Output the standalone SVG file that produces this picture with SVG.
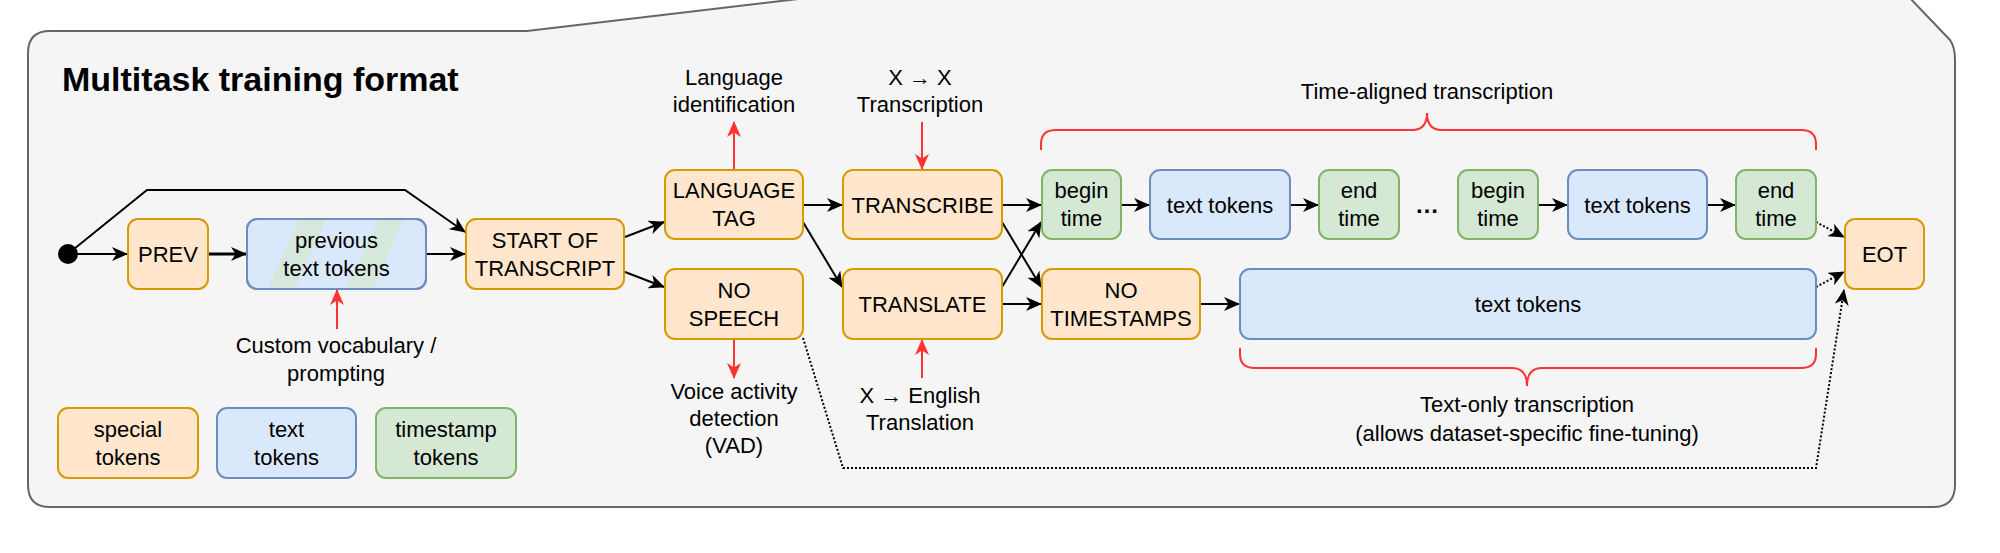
<svg xmlns="http://www.w3.org/2000/svg" width="2000" height="553" viewBox="0 0 2000 553">
<defs>
<style>
text{font-family:"Liberation Sans",Arial,sans-serif;font-size:22px;fill:#000;text-anchor:middle}
.title{font-weight:bold;font-size:34px;text-anchor:start}
.sp{fill:#ffe6cc;stroke:#d79b00;stroke-width:2}
.tx{fill:#dae8fc;stroke:#6c8ebf;stroke-width:2}
.ts{fill:#d5e8d4;stroke:#82b366;stroke-width:2}
.a{fill:none;stroke:#000;stroke-width:2;marker-end:url(#ah)}
.d{fill:none;stroke:#000;stroke-width:2;stroke-dasharray:2 2;marker-end:url(#ah)}
.r{fill:none;stroke:#ff3333;stroke-width:2;marker-end:url(#rh)}
.br{fill:none;stroke:#ff3333;stroke-width:2}
</style>
<marker id="ah" viewBox="0 0 16 14" refX="15" refY="7" markerWidth="16" markerHeight="14" markerUnits="userSpaceOnUse" orient="auto">
<path d="M0,0 L16,7 L0,14 L4.5,7 Z" fill="#000"/>
</marker>
<marker id="rh" viewBox="0 0 16 14" refX="15" refY="7" markerWidth="16" markerHeight="14" markerUnits="userSpaceOnUse" orient="auto">
<path d="M0,0 L16,7 L0,14 L4.5,7 Z" fill="#ff3333"/>
</marker>
<clipPath id="pc"><rect x="247" y="219" width="179" height="70" rx="10"/></clipPath>
</defs>
<g id="container">
<path d="M28,53 Q28,31 50,31 L527,31 L832,-5 L1907,-5 L1950,40 Q1955,47 1955,60 L1955,485 Q1955,507 1933,507 L50,507 Q28,507 28,485 Z" fill="#f5f5f5" stroke="#666666" stroke-width="2"/>
<text class="title" x="62" y="91">Multitask training format</text>
</g>
<g id="connectors">
<circle cx="68" cy="254" r="10" fill="#000"/>
<path class="a" d="M78,254 L127,254"/>
<path class="a" d="M208,254 L246,254" style="stroke-width:3"/>
<path class="a" d="M426,254 L465,254"/>
<path class="a" d="M74,249 L147,190 L405,190 L465,232"/>
<path class="a" d="M625,237 L664,222"/>
<path class="a" d="M625,272 L664,287"/>
<path class="a" d="M803,205 L842,205"/>
<path class="a" d="M803,222 L842,287"/>
<path class="a" d="M1002,205 L1041,205"/>
<path class="a" d="M1002,222 L1041,287"/>
<path class="a" d="M1002,287 L1041,222"/>
<path class="a" d="M1002,304 L1041,304"/>
<path class="a" d="M1121,205 L1149,205"/>
<path class="a" d="M1290,205 L1318,205"/>
<path class="a" d="M1538,205 L1567,205"/>
<path class="a" d="M1707,205 L1735,205"/>
<path class="a" d="M1200,304 L1239,304"/>
<path class="d" d="M1816,222 L1844,237"/>
<path class="d" d="M1816,287 L1844,272"/>
<path class="d" d="M803,338 L843,468 L1816,468 L1844,290"/>
<path class="r" d="M734,170 L734,122"/>
<path class="r" d="M922,122 L922,169"/>
<path class="r" d="M734,339 L734,378"/>
<path class="r" d="M922,378 L922,340"/>
<path class="r" d="M337,329 L337,290"/>
<path class="br" d="M1041,150 V144 Q1041,130 1056,130 H1412 Q1427,130 1427,113 Q1427,130 1442,130 H1801 Q1816,130 1816,144 V150"/>
<path class="br" d="M1240,348 V354 Q1240,368 1255,368 H1512 Q1527,368 1527,386 Q1527,368 1542,368 H1801 Q1816,368 1816,354 V348"/>
</g>
<g id="prev"><rect class="sp" x="128" y="219" width="80" height="70" rx="10"/><text x="168" y="262">PREV</text></g>
<g id="prevtext">
<rect class="tx" x="247" y="219" width="179" height="70" rx="10"/>
<g clip-path="url(#pc)" fill="#d5e8d4" opacity="0.8">
<polygon points="268,289 295,289 326,219 299,219"/>
<polygon points="346,289 373,289 404,219 379,219"/>
</g>
<rect x="247" y="219" width="179" height="70" rx="10" fill="none" stroke="#6c8ebf" stroke-width="2"/>
<text x="336.5" y="248">previous</text><text x="336.5" y="276">text tokens</text>
</g>
<g id="sot"><rect class="sp" x="466" y="219" width="158" height="70" rx="10"/><text x="545" y="248">START OF</text><text x="545" y="276">TRANSCRIPT</text></g>
<g id="lang"><rect class="sp" x="665" y="170" width="138" height="69" rx="10"/><text x="734" y="198">LANGUAGE</text><text x="734" y="226">TAG</text></g>
<g id="nospeech"><rect class="sp" x="665" y="269" width="138" height="70" rx="10"/><text x="734" y="298">NO</text><text x="734" y="326">SPEECH</text></g>
<g id="transcribe"><rect class="sp" x="843" y="170" width="159" height="69" rx="10"/><text x="922.5" y="212.5">TRANSCRIBE</text></g>
<g id="translate"><rect class="sp" x="843" y="269" width="159" height="70" rx="10"/><text x="922.5" y="312">TRANSLATE</text></g>
<g id="begin1"><rect class="ts" x="1042" y="170" width="79" height="69" rx="10"/><text x="1081.5" y="198">begin</text><text x="1081.5" y="226">time</text></g>
<g id="text1"><rect class="tx" x="1150" y="170" width="140" height="69" rx="10"/><text x="1220" y="212.5">text tokens</text></g>
<g id="end1"><rect class="ts" x="1319" y="170" width="80" height="69" rx="10"/><text x="1359" y="198">end</text><text x="1359" y="226">time</text></g>
<g id="ellipsis"><text x="1427" y="213" style="font-weight:bold;font-size:24px">…</text></g>
<g id="begin2"><rect class="ts" x="1458" y="170" width="80" height="69" rx="10"/><text x="1498" y="198">begin</text><text x="1498" y="226">time</text></g>
<g id="text2"><rect class="tx" x="1568" y="170" width="139" height="69" rx="10"/><text x="1637.5" y="212.5">text tokens</text></g>
<g id="end2"><rect class="ts" x="1736" y="170" width="80" height="69" rx="10"/><text x="1776" y="198">end</text><text x="1776" y="226">time</text></g>
<g id="notimestamps"><rect class="sp" x="1042" y="269" width="158" height="70" rx="10"/><text x="1121" y="298">NO</text><text x="1121" y="326">TIMESTAMPS</text></g>
<g id="textbig"><rect class="tx" x="1240" y="269" width="576" height="70" rx="10"/><text x="1528" y="312">text tokens</text></g>
<g id="eot"><rect class="sp" x="1845" y="219" width="79" height="70" rx="10"/><text x="1884.5" y="262">EOT</text></g>
<g id="labels">
<text x="734" y="85">Language</text><text x="734" y="112">identification</text>
<text x="920" y="85">X → X</text><text x="920" y="112">Transcription</text>
<text x="734" y="399">Voice activity</text><text x="734" y="426">detection</text><text x="734" y="453">(VAD)</text>
<text x="920" y="403">X → English</text><text x="920" y="430">Translation</text>
<text x="336" y="353">Custom vocabulary /</text><text x="336" y="381">prompting</text>
<text x="1427" y="99">Time-aligned transcription</text>
<text x="1527" y="412">Text-only transcription</text><text x="1527" y="441">(allows dataset-specific fine-tuning)</text>
</g>
<g id="legend">
<g id="legend-special"><rect class="sp" x="58" y="408" width="140" height="70" rx="10"/><text x="128" y="437">special</text><text x="128" y="465">tokens</text></g>
<g id="legend-text"><rect class="tx" x="217" y="408" width="139" height="70" rx="10"/><text x="286.5" y="437">text</text><text x="286.5" y="465">tokens</text></g>
<g id="legend-timestamp"><rect class="ts" x="376" y="408" width="140" height="70" rx="10"/><text x="446" y="437">timestamp</text><text x="446" y="465">tokens</text></g>
</g>
</svg>
